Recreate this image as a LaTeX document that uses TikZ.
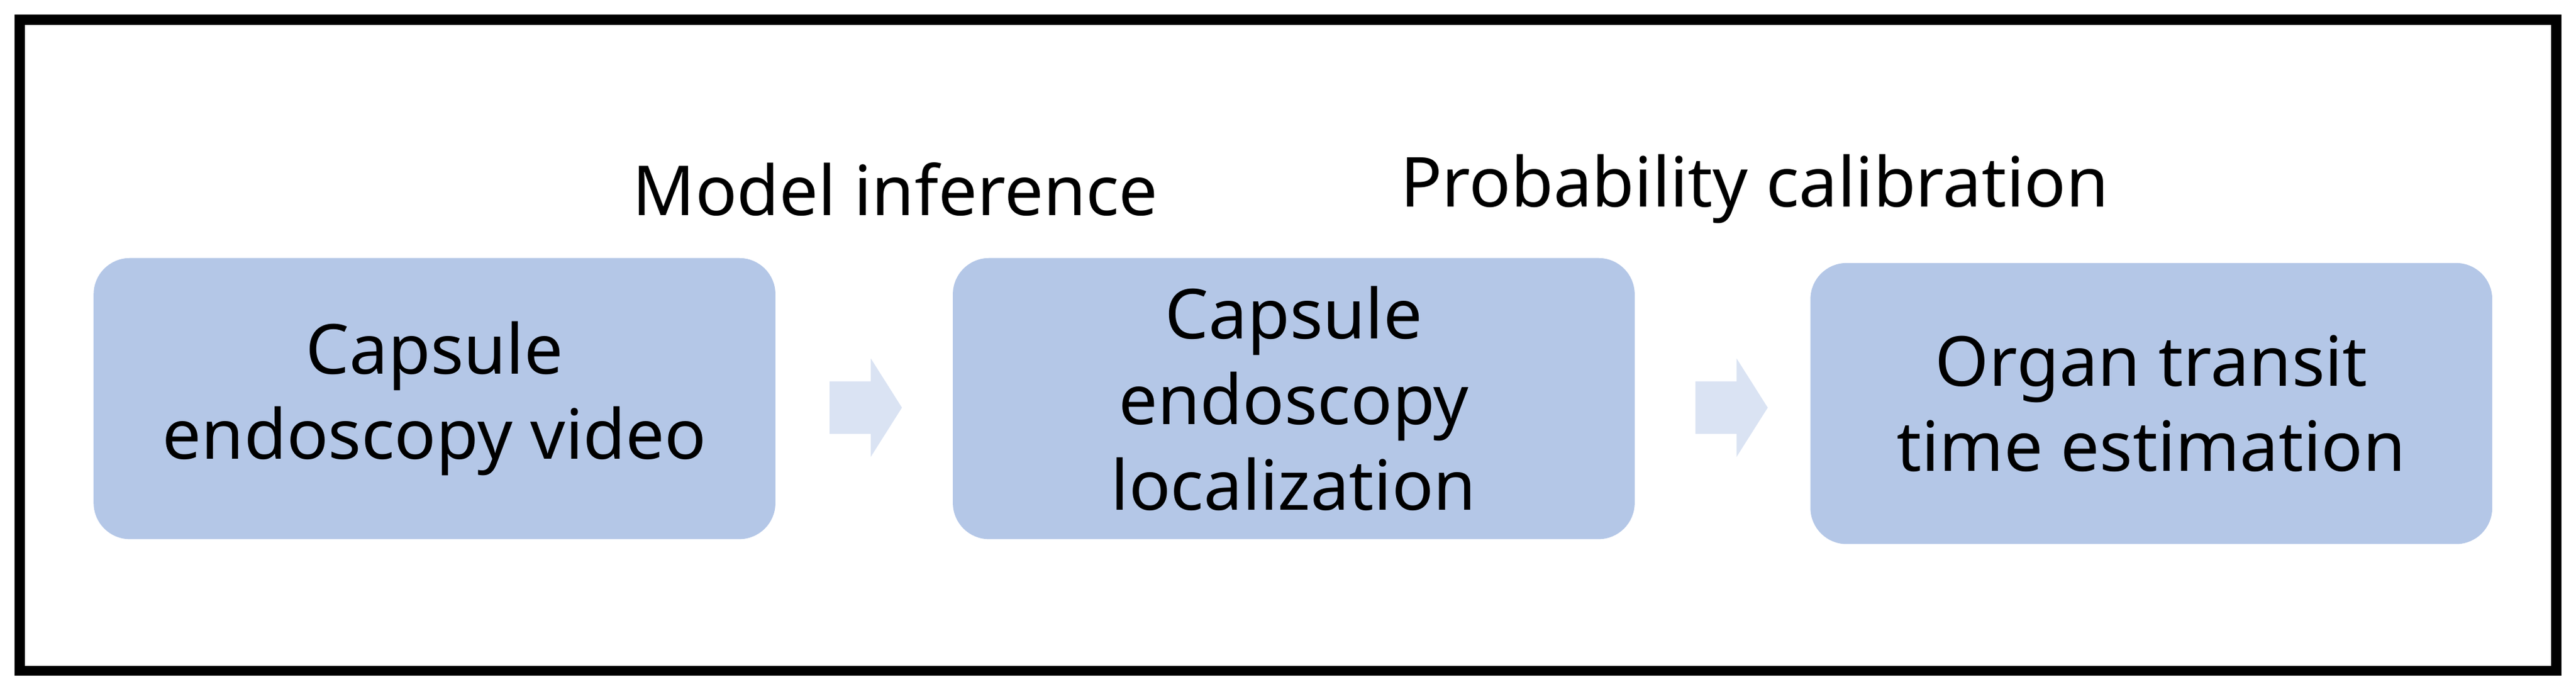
\documentclass[tikz,border=0pt]{standalone}
\usepackage{fontspec}
\setmainfont{Noto Sans}
\definecolor{boxc}{HTML}{B4C7E7}
\definecolor{arrc}{HTML}{DAE3F3}
\begin{document}
\begin{tikzpicture}[x=1pt,y=-1pt,
  box/.style={fill=boxc,rounded corners=22pt,minimum width=415pt,minimum height=171pt,align=center,font=\fontsize{42}{52}\selectfont,inner sep=0pt},
  lab/.style={font=\fontsize{42}{52}\selectfont,inner sep=0pt},
  arr/.style={fill=arrc,draw=none}]
\useasboundingbox (0,0) rectangle (1568,419);
\draw[line width=6pt] (12,12) rectangle (1556,408);
\node[box] (b1) at (264.5,242.5) {Capsule\\endoscopy video};
\node[box] (b2) at (787.5,242.5) {Capsule\\endoscopy\\localization};
\node[box] (b3) at (1309.5,245.5) {Organ transit\\time estimation};
\node[lab] (l1) at (545,115) {Model inference};
\node[lab] (l2) at (1068,115) {Probability calibration};
\fill[arr] (505,232) -- (530,232) -- (530,218) -- (549,248) -- (530,278) -- (530,264) -- (505,264) -- cycle;
\fill[arr] (1032,232) -- (1057,232) -- (1057,218) -- (1076,248) -- (1057,278) -- (1057,264) -- (1032,264) -- cycle;
\end{tikzpicture}
\end{document}
